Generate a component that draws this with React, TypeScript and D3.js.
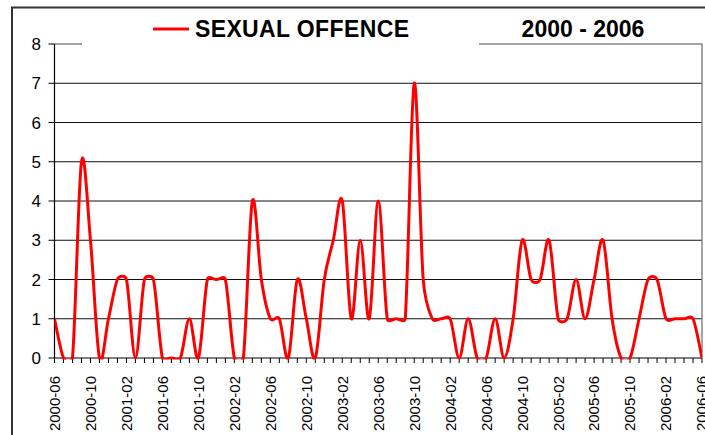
import { useMemo } from "react";
import * as d3 from "d3";

// monthly counts, 2000-06 .. 2006-06
const counts = [
  1, 0, 0, 5, 3, 0, 1, 2, 2, 0, 2, 2, 0, 0, 0, 1, 0, 2, 2, 2, 0, 0, 4, 2, 1,
  1, 0, 2, 1, 0, 2, 3, 4, 1, 3, 1, 4, 1, 1, 1, 7, 2, 1, 1, 1, 0, 1, 0, 0, 1,
  0, 1, 3, 2, 2, 3, 1, 1, 2, 1, 2, 3, 1, 0, 0, 1, 2, 2, 1, 1, 1, 1, 0,
];
const months = d3
  .timeMonths(new Date(2000, 5, 1), new Date(2006, 6, 1))
  .map(d3.timeFormat("%Y-%m"));
const yTicks = [0, 1, 2, 3, 4, 5, 6, 7, 8];
const seriesName = "SEXUAL OFFENCE";
const title = "2000 - 2006";

const W = 705;
const H = 435;
const margin = { top: 44, right: 3, bottom: 77, left: 54.5 };
const FONT = "'Liberation Sans', Arial, sans-serif";

// spreadsheet-style smoothed line: cardinal bezier with control arms capped at half a segment
function smoothPath(pts: [number, number][]) {
  const p = d3.path();
  const dist = (a: [number, number], b: [number, number]) => Math.hypot(b[0] - a[0], b[1] - a[1]);
  p.moveTo(pts[0][0], pts[0][1]);
  for (let i = 0; i < pts.length - 1; i++) {
    const p0 = pts[Math.max(0, i - 1)];
    const p1 = pts[i];
    const p2 = pts[i + 1];
    const p3 = pts[Math.min(pts.length - 1, i + 2)];
    const d02 = dist(p0, p2);
    const d12 = dist(p1, p2);
    const d13 = dist(p1, p3);
    const f1 = d02 / 6 < d12 / 2 ? 1 / 6 : d12 / 2 / d02;
    const f2 = d13 / 6 < d12 / 2 ? 1 / 6 : d12 / 2 / d13;
    p.bezierCurveTo(
      p1[0] + (p2[0] - p0[0]) * f1,
      p1[1] + (p2[1] - p0[1]) * f1,
      p2[0] - (p3[0] - p1[0]) * f2,
      p2[1] - (p3[1] - p1[1]) * f2,
      p2[0],
      p2[1]
    );
  }
  return p.toString();
}

export default function App() {
  const x = useMemo(
    () => d3.scalePoint<string>().domain(months).range([margin.left, W - margin.right]),
    []
  );
  const y = useMemo(
    () => d3.scaleLinear().domain([0, 8]).range([H - margin.bottom, margin.top]),
    []
  );

  const pts = counts.map((v, i) => [x(months[i]) as number, y(v)] as [number, number]);

  const x0 = margin.left;
  const x1 = W - margin.right;
  const y0 = y(0);
  const yTop = y(8);

  return (
    <svg
      width={W}
      height={H}
      style={{ position: "absolute", left: 0, top: 0, background: "#fff" }}
      fontFamily={FONT}
    >
      <defs>
        <clipPath id="plot">
          <rect x={x0} y={yTop - 2} width={x1 - x0} height={y0 - yTop + 3.5} />
        </clipPath>
      </defs>

      {/* outer chart border */}
      <path d={`M12,${H} L12,7.5 L${W},7.5`} fill="none" stroke="#333" strokeWidth={2} />

      {/* gridlines */}
      {yTicks.slice(1, -1).map((t) => (
        <line key={t} x1={x0} x2={x1} y1={y(t)} y2={y(t)} stroke="#111" strokeWidth={1} />
      ))}

      {/* plot area border */}
      <path d={`M${x0},${yTop} L${x1},${yTop} L${x1},${y0}`} fill="none" stroke="#888" strokeWidth={1.5} />

      {/* y axis */}
      <line x1={x0} x2={x0} y1={yTop} y2={y0} stroke="#000" strokeWidth={1.2} />
      {yTicks.map((t) => (
        <g key={t}>
          <line x1={x0 - 6} x2={x0} y1={y(t)} y2={y(t)} stroke="#000" strokeWidth={1} />
          <text x={41} y={y(t)} dy="0.36em" textAnchor="end" fontSize={17} fill="#000">
            {t}
          </text>
        </g>
      ))}

      {/* x axis */}
      <line x1={x0} x2={x1} y1={y0} y2={y0} stroke="#000" strokeWidth={1.2} />
      {months.map((m) => (
        <line key={m} x1={x(m)} x2={x(m)} y1={y0} y2={y0 + 5} stroke="#000" strokeWidth={1} />
      ))}
      {months
        .filter((_, i) => i % 4 === 0)
        .map((m) => (
          <text
            key={m}
            transform={`translate(${x(m)},${y0 + 18}) rotate(-90)`}
            dy="0.36em"
            textAnchor="end"
            fontSize={15}
            fill="#000"
          >
            {m}
          </text>
        ))}

      {/* series */}
      <path
        d={smoothPath(pts)}
        fill="none"
        stroke="#ff0000"
        strokeWidth={3}
        strokeLinejoin="round"
        clipPath="url(#plot)"
      />

      {/* legend box */}
      <rect x={82} y={14} width={397} height={33} fill="#fff" />
      <line x1={153} x2={189} y1={29} y2={29} stroke="#ff0000" strokeWidth={3} />
      <text x={195} y={37} fontSize={23} fontWeight="bold" fill="#000" textLength={214}>
        {seriesName}
      </text>

      {/* title */}
      <text x={583} y={37} textAnchor="middle" fontSize={23} fontWeight="bold" fill="#000">
        {title}
      </text>
    </svg>
  );
}
